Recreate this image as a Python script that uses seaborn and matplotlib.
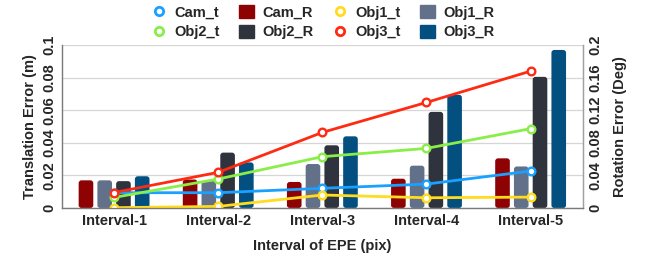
import pandas as pd
import matplotlib
matplotlib.use('Agg')
import matplotlib.pyplot as plt
import seaborn as sns
from matplotlib.patches import FancyBboxPatch, Patch
from matplotlib.lines import Line2D

# Chart data
intervals = ['Interval-1', 'Interval-2', 'Interval-3', 'Interval-4', 'Interval-5']

# translation errors (m), left axis
cam_t = [0.0094, 0.0094, 0.0121, 0.0147, 0.0227]
obj1_t = [0.0002, 0.0010, 0.0080, 0.0063, 0.0067]
obj2_t = [0.0065, 0.0178, 0.0315, 0.0366, 0.0487]
obj3_t = [0.0095, 0.0219, 0.0464, 0.0648, 0.0840]

# rotation errors (deg), right axis
cam_r = [0.034, 0.035, 0.032, 0.036, 0.061]
obj1_r = [0.034, 0.033, 0.054, 0.052, 0.051]
obj2_r = [0.033, 0.068, 0.077, 0.118, 0.161]
obj3_r = [0.039, 0.056, 0.088, 0.139, 0.194]

line_names = ['Cam_t', 'Obj1_t', 'Obj2_t', 'Obj3_t']
bar_names = ['Cam_R', 'Obj1_R', 'Obj2_R', 'Obj3_R']
line_colors = {'Cam_t': '#1aa0ff', 'Obj1_t': '#ffdc1e', 'Obj2_t': '#8aee48', 'Obj3_t': '#ff2a12'}
bar_colors = {'Cam_R': '#8e0204', 'Obj1_R': '#627089', 'Obj2_R': '#2e333e', 'Obj3_R': '#034f80'}

sns.set_style('white')
plt.rcParams['font.family'] = ['Liberation Sans', 'DejaVu Sans']
plt.rcParams['font.weight'] = 'bold'

# long-form tables
trans_df = pd.DataFrame({
    'x': list(range(len(intervals))) * 4,
    'value': cam_t + obj1_t + obj2_t + obj3_t,
    'series': sum([[n] * len(intervals) for n in line_names], []),
})
rot_df = pd.DataFrame({
    'interval': intervals * 4,
    'value': cam_r + obj1_r + obj2_r + obj3_r,
    'series': sum([[n] * len(intervals) for n in bar_names], []),
})

fig = plt.figure(figsize=(6.46, 2.62), dpi=100)
ax = fig.add_axes([0.096, 0.206, 0.806, 0.622])
ax2 = ax.twinx()

# bars on the rotation axis
sns.barplot(data=rot_df, x='interval', y='value', hue='series', order=intervals,
            hue_order=bar_names, palette=bar_colors, width=0.72, gap=0.22,
            saturation=1, ax=ax2, legend=False)

# make the bars rounded
for p in list(ax2.patches):
    x, y = p.get_x(), p.get_y()
    w, h = p.get_width(), p.get_height()
    fc = p.get_facecolor()
    p.remove()
    rb = FancyBboxPatch((x, y), w, h, boxstyle='round,pad=0,rounding_size=0.028',
                        mutation_aspect=0.125, facecolor=fc, edgecolor='none', zorder=2)
    ax2.add_patch(rb)

# lines on the translation axis
sns.lineplot(data=trans_df, x='x', y='value', hue='series', hue_order=line_names,
             palette=line_colors, marker='o', markersize=5.5, mfc='white', mew=1.7,
             linewidth=2.0, ax=ax, legend=False)
for ln in ax.lines:
    ln.set_markeredgecolor(ln.get_color())

ax.set_zorder(ax2.get_zorder() + 1)
ax.patch.set_visible(False)

ax.set_xlim(-0.5, len(intervals) - 0.5)
ax.set_ylim(0, 0.1)
ax2.set_ylim(0, 0.2)
ax.set_yticks([0, 0.02, 0.04, 0.06, 0.08, 0.1])
ax.set_yticklabels(['0', '0.02', '0.04', '0.06', '0.08', '0.1'], rotation=90, va='center')
ax2.set_yticks([0, 0.04, 0.08, 0.12, 0.16, 0.2])
ax2.set_yticklabels(['0', '0.04', '0.08', '0.12', '0.16', '0.2'], rotation=90, va='center')
ax.set_xticks(range(len(intervals)))
ax.set_xticklabels(intervals)
ax2.set_xlabel('')

ax2.yaxis.grid(True, color='#d6d6d6', linewidth=0.9, zorder=0)
ax2.set_axisbelow(True)

for a in (ax, ax2):
    a.tick_params(axis='both', length=0, labelsize=10.5, pad=4)
    for s in a.spines.values():
        s.set_color('#a0a0a0')
        s.set_linewidth(0.9)
    a.spines['top'].set_visible(False)
ax.spines['left'].set_color('#7a7a7a')
ax.spines['bottom'].set_color('#7a7a7a')

ax.set_xlabel('Interval of EPE (pix)', fontsize=10.5, fontweight='bold', labelpad=8)
ax.set_ylabel('Translation Error (m)', fontsize=10.5, fontweight='bold', labelpad=4)
ax2.set_ylabel('Rotation Error (Deg)', fontsize=10.5, fontweight='bold', labelpad=8, rotation=90)

# legend, column-wise order so rows read Cam_t Cam_R Obj1_t Obj1_R / Obj2_t ...
def line_handle(n):
    return Line2D([], [], linestyle='none', marker='o', markersize=6, mfc='white',
                  mec=line_colors[n], mew=2.0)

handles = [line_handle('Cam_t'), line_handle('Obj2_t'),
           Patch(color=bar_colors['Cam_R']), Patch(color=bar_colors['Obj2_R']),
           line_handle('Obj1_t'), line_handle('Obj3_t'),
           Patch(color=bar_colors['Obj1_R']), Patch(color=bar_colors['Obj3_R'])]
labels = ['Cam_t', 'Obj2_t', 'Cam_R', 'Obj2_R', 'Obj1_t', 'Obj3_t', 'Obj1_R', 'Obj3_R']
fig.legend(handles, labels, loc='center', bbox_to_anchor=(0.5, 0.915), ncol=4,
           frameon=False, fontsize=10.5, handlelength=1.0, handleheight=1.0,
           columnspacing=1.3, handletextpad=0.6, labelspacing=0.35)

fig.savefig('out.png', dpi=100)
